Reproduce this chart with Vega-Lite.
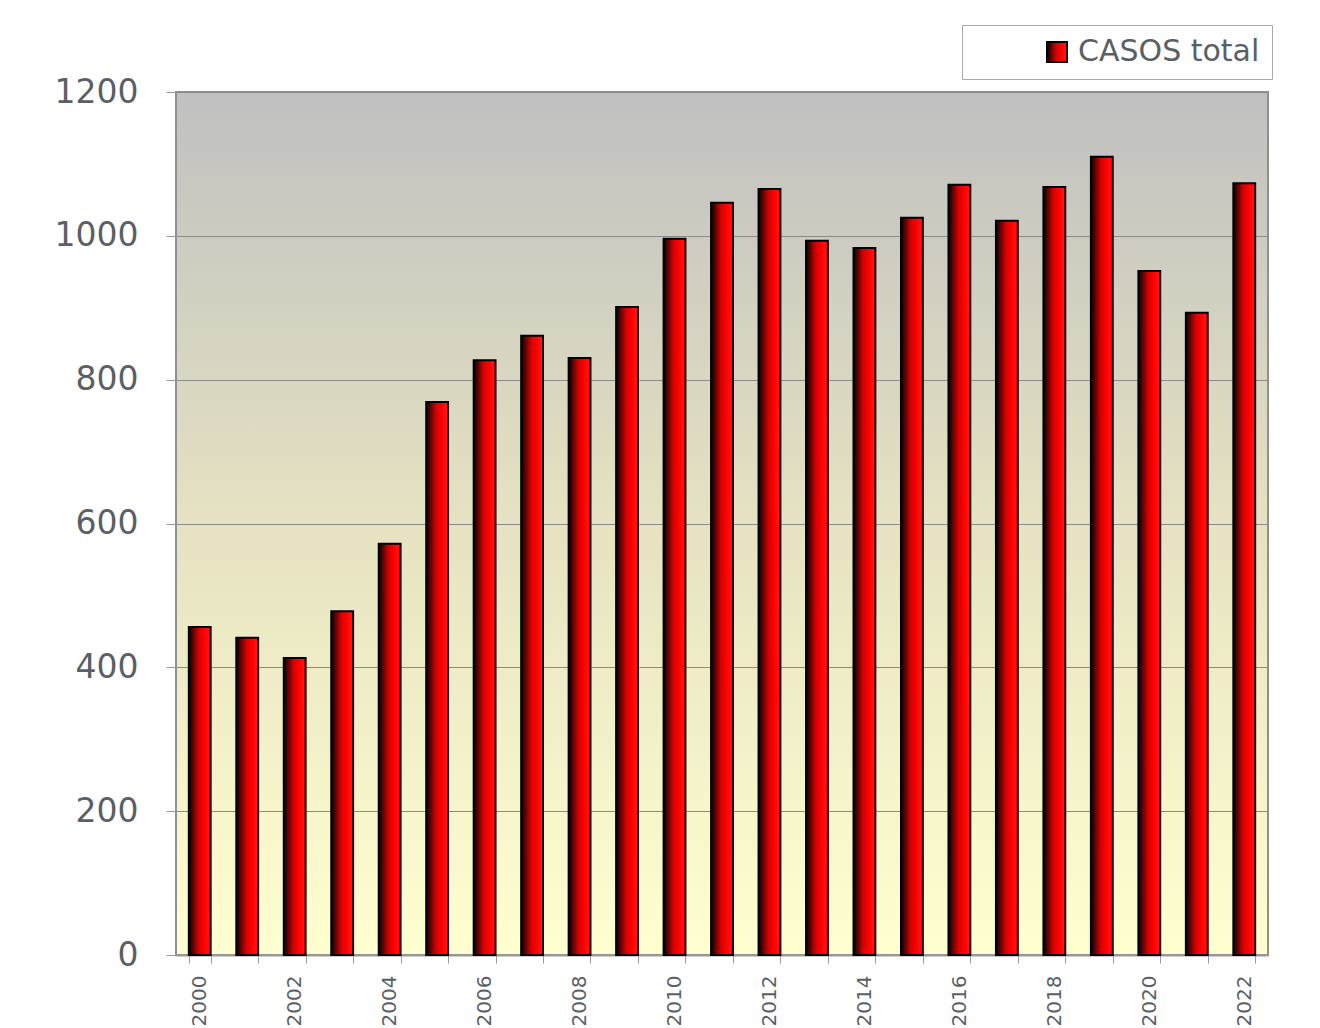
{
  "$schema": "https://vega.github.io/schema/vega-lite/v6.json",
  "width": 1092,
  "height": 863,
  "autosize": "none",
  "padding": {"left": 176, "top": 92, "right": 52, "bottom": 73},
  "background": "white",
  "data": {"values": [
    {"year": "2000", "casos": 456},
    {"year": "2001", "casos": 441},
    {"year": "2002", "casos": 413},
    {"year": "2003", "casos": 478},
    {"year": "2004", "casos": 572},
    {"year": "2005", "casos": 769},
    {"year": "2006", "casos": 827},
    {"year": "2007", "casos": 861},
    {"year": "2008", "casos": 830},
    {"year": "2009", "casos": 901},
    {"year": "2010", "casos": 996},
    {"year": "2011", "casos": 1046},
    {"year": "2012", "casos": 1065},
    {"year": "2013", "casos": 993},
    {"year": "2014", "casos": 983},
    {"year": "2015", "casos": 1025},
    {"year": "2016", "casos": 1071},
    {"year": "2017", "casos": 1021},
    {"year": "2018", "casos": 1068},
    {"year": "2019", "casos": 1110},
    {"year": "2020", "casos": 951},
    {"year": "2021", "casos": 893},
    {"year": "2022", "casos": 1073}
  ]},
  "mark": {
    "type": "bar",
    "strokeWidth": 2,
    "fill": {
      "gradient": "linear",
      "x1": 0, "x2": 1, "y1": 0, "y2": 0,
      "stops": [
        {"offset": 0, "color": "#000000"},
        {"offset": 0.15, "color": "#500000"},
        {"offset": 0.45, "color": "#d80000"},
        {"offset": 0.7, "color": "#ff0000"},
        {"offset": 1, "color": "#ff1a1a"}
      ]
    }
  },
  "encoding": {
    "x": {
      "field": "year",
      "type": "ordinal",
      "scale": {"paddingInner": 0.54, "paddingOuter": 0.27},
      "axis": {
        "title": null,
        "tickBand": "extent",
        "labelAngle": -90,
        "labelExpr": "toNumber(datum.value) % 2 == 0 ? datum.label : ''",
        "labelFont": "DejaVu Sans",
        "labelFontSize": 20,
        "labelColor": "#5a5f66",
        "labelPadding": 12,
        "tickSize": 8,
        "tickColor": "#999999",
        "domainColor": "#999999",
        "domainWidth": 2,
        "grid": false
      }
    },
    "y": {
      "field": "casos",
      "type": "quantitative",
      "scale": {"domain": [0, 1200]},
      "axis": {
        "title": null,
        "format": "d",
        "values": [0, 200, 400, 600, 800, 1000, 1200],
        "labelFont": "DejaVu Sans",
        "labelFontSize": 33,
        "labelColor": "#5a5f66",
        "labelPadding": 28,
        "tickSize": 10,
        "tickColor": "#999999",
        "domain": false,
        "gridColor": "#8a8a8a",
        "gridWidth": 1
      }
    },
    "stroke": {
      "datum": "CASOS total",
      "type": "nominal",
      "scale": {"range": ["#000000"]},
      "legend": {
        "title": null,
        "orient": "none",
        "legendX": 786,
        "legendY": -67,
        "symbolType": "square",
        "symbolSize": 400,
        "symbolStrokeWidth": 2,
        "symbolOffset": 68,
        "labelFont": "DejaVu Sans",
        "labelFontSize": 30,
        "labelColor": "#5a5f66",
        "labelOffset": 6,
        "padding": 12,
        "fillColor": "white",
        "strokeColor": "#aaaaaa",
        "labelLimit": 400,
        "encode": {
          "symbols": {
            "update": {
              "fill": {"value": {
                "gradient": "linear",
                "x1": 0, "x2": 1, "y1": 0, "y2": 1,
                "stops": [
                  {"offset": 0, "color": "#000000"},
                  {"offset": 0.45, "color": "#e00000"},
                  {"offset": 1, "color": "#ff0000"}
                ]
              }}
            }
          }
        }
      }
    }
  },
  "config": {
    "view": {
      "stroke": "#909090",
      "strokeWidth": 2,
      "fill": {
        "gradient": "linear",
        "x1": 0, "x2": 0, "y1": 0, "y2": 1,
        "stops": [
          {"offset": 0, "color": "#c0c0c0"},
          {"offset": 0.5, "color": "#e6e2c2"},
          {"offset": 1, "color": "#ffffd0"}
        ]
      }
    }
  }
}
